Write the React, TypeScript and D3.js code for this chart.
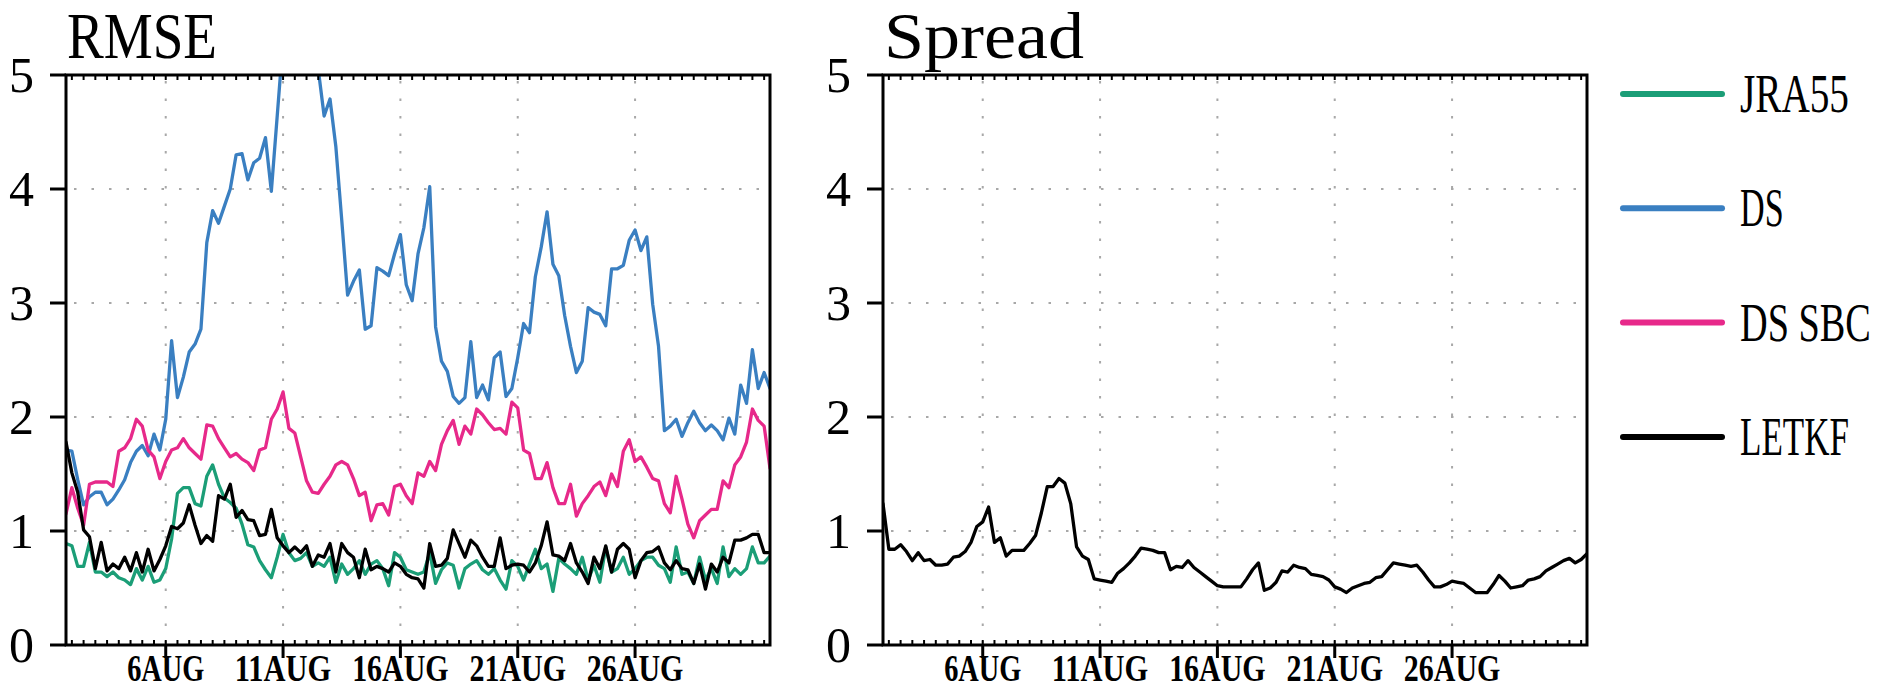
import React from "react";
import * as d3 from "d3";

// ---- data (6-hourly, starting 1 AUG 18Z) ----
const startTime = Date.UTC(2000, 7, 1, 18);
const stepHours = 6;

const tickDays = [6, 11, 16, 21, 26];
const tickLabels = ["6AUG", "11AUG", "16AUG", "21AUG", "26AUG"];
const yTicks = [0, 1, 2, 3, 4, 5];

const seriesNames = ["JRA55", "DS", "DS SBC", "LETKF"];
const seriesColors = ["#1b9e77", "#3a7fc1", "#e7298a", "#000000"];

const jra55 = [
  0.89, 0.87, 0.69, 0.69, 0.9, 0.64, 0.64, 0.6, 0.64, 0.59,
  0.57, 0.53, 0.67, 0.57, 0.69, 0.55, 0.57, 0.67, 0.93, 1.33,
  1.38, 1.38, 1.24, 1.22, 1.48, 1.58, 1.41, 1.29, 1.25, 1.2,
  1.06, 0.88, 0.86, 0.74, 0.66, 0.59, 0.77, 0.97, 0.81, 0.74,
  0.76, 0.81, 0.69, 0.72, 0.69, 0.77, 0.55, 0.71, 0.62, 0.67,
  0.74, 0.62, 0.71, 0.74, 0.67, 0.52, 0.81, 0.77, 0.66, 0.64,
  0.62, 0.64, 0.81, 0.54, 0.66, 0.72, 0.7, 0.5, 0.67, 0.71,
  0.74, 0.66, 0.62, 0.67, 0.57, 0.49, 0.74, 0.69, 0.57, 0.71,
  0.84, 0.67, 0.71, 0.47, 0.76, 0.71, 0.67, 0.62, 0.77, 0.57,
  0.7, 0.55, 0.86, 0.64, 0.67, 0.77, 0.62, 0.67, 0.74, 0.77,
  0.77, 0.7, 0.67, 0.55, 0.86, 0.62, 0.64, 0.54, 0.77, 0.57,
  0.67, 0.54, 0.86, 0.6, 0.67, 0.62, 0.67, 0.86, 0.72, 0.72,
  0.78,
];

const ds = [
  1.71, 1.7, 1.45, 1.23, 1.3, 1.34, 1.34, 1.23, 1.28, 1.36,
  1.45, 1.6, 1.7, 1.75, 1.66, 1.85, 1.71, 1.98, 2.67, 2.17,
  2.35, 2.57, 2.64, 2.77, 3.53, 3.81, 3.7, 3.85, 4.0, 4.3,
  4.31, 4.08, 4.23, 4.27, 4.45, 3.98, 4.64, 5.3, 5.6, 5.5,
  5.7, 5.4, 5.3, 5.05, 4.64, 4.79, 4.37, 3.73, 3.07, 3.19,
  3.29, 2.77, 2.8, 3.31, 3.28, 3.24, 3.43, 3.6, 3.16, 3.02,
  3.43, 3.66, 4.02, 2.79, 2.49, 2.4, 2.18, 2.12, 2.17, 2.66,
  2.17, 2.28, 2.15, 2.52, 2.57, 2.18, 2.25, 2.52, 2.82, 2.74,
  3.23, 3.49, 3.8, 3.34, 3.24, 2.89, 2.62, 2.39, 2.49, 2.96,
  2.92, 2.9, 2.8, 3.3, 3.3, 3.33, 3.55, 3.64, 3.46, 3.58,
  2.99, 2.62, 1.88, 1.92, 1.98, 1.83, 1.95, 2.05, 1.95, 1.88,
  1.93, 1.88, 1.8, 1.99, 1.85, 2.28, 2.12, 2.59, 2.25, 2.39,
  2.25,
];

const dsSbc = [
  1.15, 1.38, 1.2, 1.05, 1.41, 1.43, 1.43, 1.43, 1.39, 1.7,
  1.73, 1.81, 1.98, 1.92, 1.71, 1.65, 1.46, 1.61, 1.71, 1.73,
  1.81, 1.73, 1.68, 1.63, 1.93, 1.92, 1.81, 1.73, 1.65, 1.68,
  1.63, 1.6, 1.53, 1.71, 1.73, 1.98, 2.07, 2.22, 1.9, 1.86,
  1.65, 1.44, 1.34, 1.33, 1.41, 1.48, 1.58, 1.61, 1.58, 1.46,
  1.31, 1.34, 1.09, 1.23, 1.24, 1.14, 1.39, 1.41, 1.31, 1.24,
  1.51, 1.48, 1.61, 1.53, 1.76, 1.88, 1.97, 1.76, 1.92, 1.85,
  2.07, 2.02, 1.95, 1.89, 1.9, 1.85, 2.13, 2.08, 1.71, 1.68,
  1.46, 1.46, 1.6, 1.38, 1.24, 1.24, 1.41, 1.13, 1.24, 1.31,
  1.39, 1.43, 1.31, 1.5, 1.39, 1.7, 1.8, 1.61, 1.65, 1.56,
  1.46, 1.44, 1.24, 1.16, 1.48, 1.28, 1.06, 0.94, 1.09, 1.14,
  1.19, 1.19, 1.44, 1.38, 1.58, 1.65, 1.78, 2.07, 1.97, 1.92,
  1.55,
];

const letkf = [
  1.78, 1.51, 1.34, 1.01, 0.95, 0.67, 0.9, 0.65, 0.71, 0.67,
  0.77, 0.65, 0.81, 0.64, 0.84, 0.65, 0.75, 0.87, 1.04, 1.02,
  1.07, 1.23, 1.05, 0.89, 0.96, 0.91, 1.31, 1.28, 1.41, 1.12,
  1.18, 1.1, 1.09, 0.96, 0.97, 1.19, 0.94, 0.87, 0.81, 0.86,
  0.81, 0.87, 0.69, 0.79, 0.77, 0.89, 0.64, 0.89, 0.81, 0.77,
  0.59, 0.84, 0.66, 0.69, 0.67, 0.64, 0.72, 0.69, 0.62, 0.59,
  0.58, 0.5, 0.89, 0.69, 0.7, 0.76, 1.01, 0.89, 0.77, 0.92,
  0.87, 0.77, 0.69, 0.69, 0.94, 0.67, 0.7, 0.71, 0.7, 0.64,
  0.72, 0.87, 1.08, 0.79, 0.78, 0.74, 0.89, 0.72, 0.64, 0.54,
  0.77, 0.67, 0.87, 0.64, 0.84, 0.89, 0.84, 0.59, 0.74, 0.81,
  0.82, 0.86, 0.72, 0.66, 0.74, 0.67, 0.66, 0.54, 0.71, 0.49,
  0.71, 0.64, 0.77, 0.72, 0.92, 0.92, 0.94, 0.97, 0.97, 0.81,
  0.81,
];

const spread = [
  1.24, 0.84, 0.84, 0.88, 0.82, 0.74, 0.81, 0.74, 0.75, 0.7,
  0.7, 0.71, 0.77, 0.78, 0.82, 0.9, 1.04, 1.08, 1.21, 0.9,
  0.94, 0.78, 0.83, 0.83, 0.83, 0.89, 0.96, 1.16, 1.39, 1.39,
  1.46, 1.42, 1.24, 0.86, 0.78, 0.75, 0.58, 0.57, 0.56, 0.55,
  0.63, 0.67, 0.72, 0.78, 0.85, 0.84, 0.83, 0.81, 0.81, 0.66,
  0.69, 0.68, 0.74, 0.68, 0.64, 0.6, 0.56, 0.52, 0.51, 0.51,
  0.51, 0.51, 0.58, 0.66, 0.72, 0.48, 0.5, 0.55, 0.65, 0.64,
  0.7, 0.68, 0.67, 0.62, 0.61, 0.6, 0.57, 0.51, 0.49, 0.46,
  0.5, 0.52, 0.54, 0.55, 0.59, 0.6, 0.66, 0.72, 0.71, 0.7,
  0.69, 0.7, 0.64, 0.57, 0.51, 0.51, 0.53, 0.56, 0.55, 0.54,
  0.5, 0.46, 0.46, 0.46, 0.53, 0.61, 0.56, 0.5, 0.51, 0.52,
  0.57, 0.58, 0.6, 0.65, 0.68, 0.71, 0.74, 0.76, 0.72, 0.75,
  0.8,
];

// ---- layout ----
const W = 1882;
const H = 689;
const TOP = 75;
const BOTTOM = 645;
const FONT = "'Liberation Serif', 'DejaVu Serif', serif";

const H6 = stepHours * 3600 * 1000;
const dates = d3.range(spread.length).map((i) => new Date(startTime + i * H6));
const endTime = startTime + (spread.length - 1) * H6;
const tickDates = tickDays.map((d) => new Date(Date.UTC(2000, 7, d)));

const yScale = d3.scaleLinear().domain([0, 5]).range([BOTTOM, TOP]);

type Series = { name: string; color: string; values: number[] };

function Panel({
  x0,
  x1,
  title,
  titleWidth,
  series,
  id,
}: {
  x0: number;
  x1: number;
  title: string;
  titleWidth: number;
  series: Series[];
  id: string;
}) {
  const x = d3.scaleUtc().domain([new Date(startTime), new Date(endTime)]).range([x0, x1]);
  const line = d3
    .line<number>()
    .x((_, i) => x(dates[i]))
    .y((d) => yScale(d));
  const minorTimes = d3
    .range(0, endTime - startTime + 1, 12 * 3600 * 1000)
    .map((t) => new Date(startTime + 6 * 3600 * 1000 + t));
  return (
    <g>
      <defs>
        <clipPath id={id}>
          <rect x={x0} y={TOP} width={x1 - x0} height={BOTTOM - TOP} />
        </clipPath>
      </defs>
      {/* grid */}
      {yTicks.slice(1, -1).map((v) => (
        <line key={"hg" + v} x1={x0 + 8} x2={x1} y1={yScale(v)} y2={yScale(v)} stroke="#a8a8a8" strokeWidth={2} strokeDasharray="2.5 15" />
      ))}
      {tickDates.map((d, i) => (
        <line key={"vg" + i} x1={x(d)} x2={x(d)} y1={TOP + 6} y2={BOTTOM} stroke="#a8a8a8" strokeWidth={2} strokeDasharray="2.5 15" />
      ))}
      {/* data */}
      <g clipPath={`url(#${id})`}>
        {series.map((s) => (
          <path key={s.name} d={line(s.values) || ""} fill="none" stroke={s.color} strokeWidth={3.3} strokeLinejoin="round" strokeLinecap="round" />
        ))}
      </g>
      {/* minor ticks on top and bottom borders */}
      {minorTimes
        .filter((d) => x(d) > x0 + 2 && x(d) < x1 - 2)
        .map((d, i) => (
          <g key={"mt" + i}>
            <line x1={x(d)} x2={x(d)} y1={TOP} y2={TOP + 5} stroke="#000" strokeWidth={2} />
            <line x1={x(d)} x2={x(d)} y1={BOTTOM} y2={BOTTOM - 5} stroke="#000" strokeWidth={2} />
          </g>
        ))}
      {/* frame */}
      <rect x={x0} y={TOP} width={x1 - x0} height={BOTTOM - TOP} fill="none" stroke="#000" strokeWidth={3} />
      {/* y ticks */}
      {yTicks.map((v) => (
        <g key={"yt" + v}>
          <line x1={x0 - 16} x2={x0} y1={yScale(v)} y2={yScale(v)} stroke="#000" strokeWidth={3} />
          <text x={x0 - 32} y={yScale(v) + 17} textAnchor="end" fontFamily={FONT} fontSize={50} fill="#000">
            {v}
          </text>
        </g>
      ))}
      {/* x ticks */}
      {tickDates.map((d, i) => (
        <g key={"xt" + i}>
          <line x1={x(d)} x2={x(d)} y1={BOTTOM} y2={BOTTOM + 13} stroke="#000" strokeWidth={3} />
          <text
            x={x(d)}
            y={BOTTOM + 36}
            textAnchor="middle"
            fontFamily={FONT}
            fontWeight="bold"
            fontSize={38}
            textLength={tickLabels[i].length * 19.3}
            lengthAdjust="spacingAndGlyphs"
            fill="#000"
          >
            {tickLabels[i]}
          </text>
        </g>
      ))}
      {/* title */}
      <text
        transform={`translate(${x0 + 1},58) scale(1,1.32)`}
        fontFamily={FONT}
        fontSize={50}
        textLength={titleWidth}
        lengthAdjust="spacingAndGlyphs"
        fill="#000"
      >
        {title}
      </text>
    </g>
  );
}

export default function App() {
  const leftSeries: Series[] = [
    { name: seriesNames[0], color: seriesColors[0], values: jra55 },
    { name: seriesNames[1], color: seriesColors[1], values: ds },
    { name: seriesNames[2], color: seriesColors[2], values: dsSbc },
    { name: seriesNames[3], color: seriesColors[3], values: letkf },
  ];
  const rightSeries: Series[] = [{ name: "Spread", color: "#000", values: spread }];
  const legendY = d3.range(seriesNames.length).map((i) => 94 + i * 114.3);
  return (
    <svg width={W} height={H} style={{ position: "absolute", left: 0, top: 0, background: "#fff" }}>
      <rect width={W} height={H} fill="#fff" />
      <Panel x0={66} x1={770} title="RMSE" titleWidth={150} series={leftSeries} id="clipL" />
      <Panel x0={883} x1={1587} title="Spread" titleWidth={200} series={rightSeries} id="clipR" />
      {seriesNames.map((n, i) => (
        <g key={n}>
          <line x1={1623} x2={1722} y1={legendY[i]} y2={legendY[i]} stroke={seriesColors[i]} strokeWidth={6} strokeLinecap="round" />
          <text
            transform={`translate(1740,${legendY[i] + 18}) scale(1,1.35)`}
            fontFamily={FONT}
            fontSize={40}
            textLength={n.length * 21.8}
            lengthAdjust="spacingAndGlyphs"
            fill="#000"
          >
            {n}
          </text>
        </g>
      ))}
    </svg>
  );
}
